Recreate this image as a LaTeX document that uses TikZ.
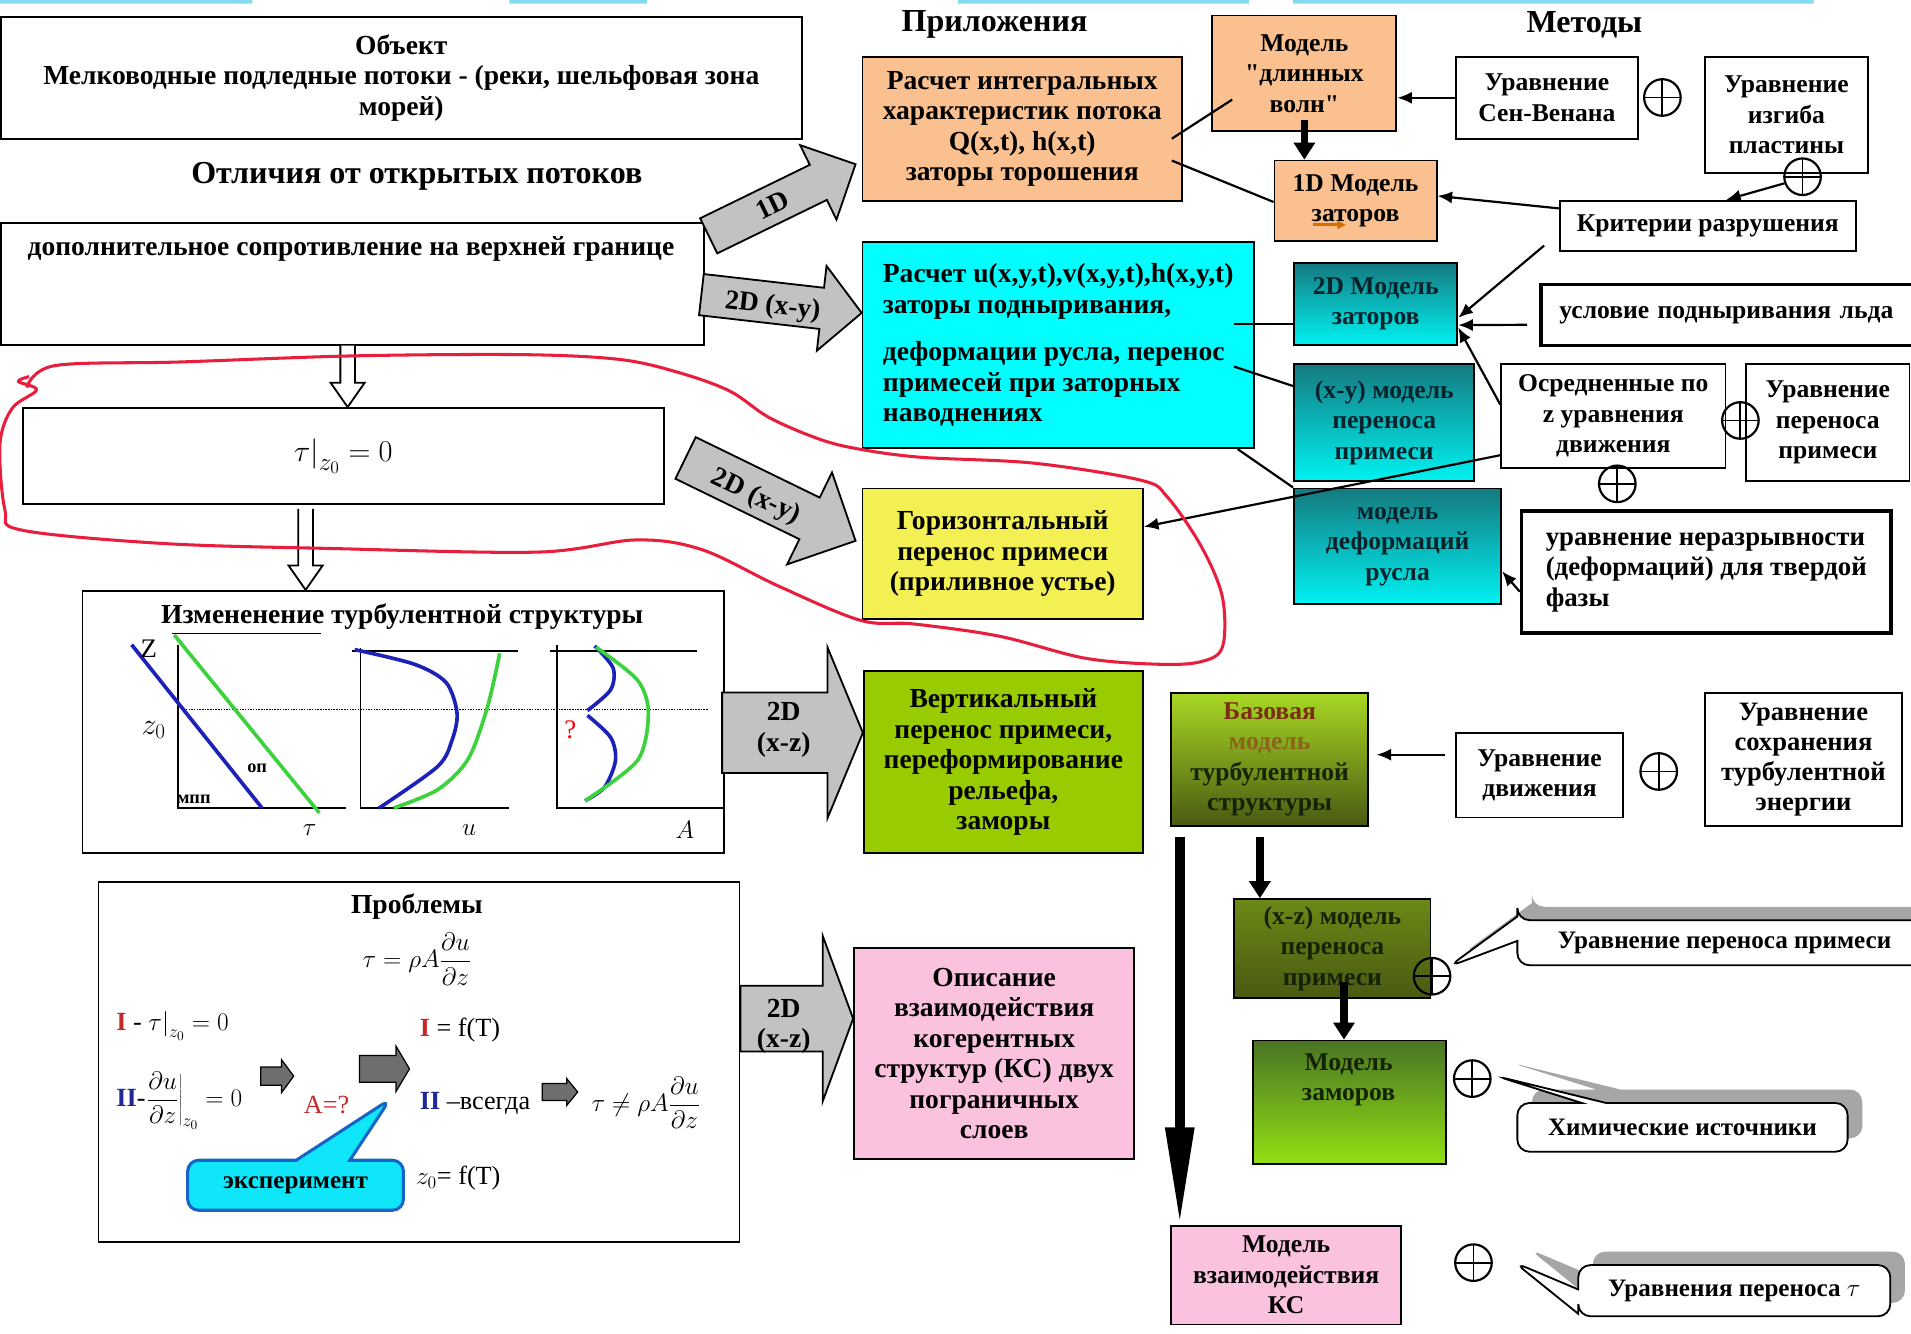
\documentclass[tikz,border=0pt]{standalone}
\usepackage{fontspec}
\setmainfont{Liberation Serif}
\usetikzlibrary{calc,arrows.meta,shapes.callouts,shadows}

\definecolor{orng}{HTML}{FAC08F}
\definecolor{cyn}{HTML}{00FFFF}
\definecolor{yel}{HTML}{F2F052}
\definecolor{grn}{HTML}{99CC00}
\definecolor{pnk}{HTML}{FBC2E0}
\definecolor{tealtop}{HTML}{147A80}
\definecolor{tealbot}{HTML}{00F2F2}
\definecolor{tealtxt}{HTML}{06222A}
\definecolor{oltop}{HTML}{A8D824}
\definecolor{olbot}{HTML}{4A5A12}
\definecolor{olmid}{HTML}{B4E624}
\definecolor{oldark}{HTML}{6C8816}
\definecolor{zamtop}{HTML}{4A7424}
\definecolor{zambot}{HTML}{92E014}
\definecolor{bazred}{HTML}{7A3010}
\definecolor{bazbr}{HTML}{8A6418}
\definecolor{grntxt}{HTML}{142206}
\definecolor{arrgray}{HTML}{C2C2C2}
\definecolor{smallgray}{HTML}{6E6E6E}
\definecolor{redI}{HTML}{C8282A}
\definecolor{blueII}{HTML}{202898}
\definecolor{plotblue}{HTML}{1C22B8}
\definecolor{plotgreen}{HTML}{3CD23C}
\definecolor{redpen}{HTML}{E81E3C}
\definecolor{topcyan}{HTML}{86D9EE}
\definecolor{expfill}{HTML}{10E6FA}
\definecolor{expline}{HTML}{1664C8}

\newcommand\dq{\XeTeXglyph\the\XeTeXglyphindex "quotedbl"\relax}

\newcommand\blockarrow[6][grayarr]{%
  \coordinate (ba) at (#2);
  \coordinate (bb) at (#3);
  \coordinate (bc) at ($(bb)!#6pt!(ba)$);
  \draw[#1] ($(ba)!#4pt!90:(bb)$) -- ($(bc)!#4pt!-90:(ba)$) -- ($(bc)!#5pt!-90:(ba)$) -- (bb)
    -- ($(bc)!#5pt!90:(ba)$) -- ($(bc)!#4pt!90:(ba)$) -- ($(ba)!#4pt!-90:(bb)$) -- cycle;}

\newcommand\hollowarrow[2]{%
  \draw[line width=1.5,fill=white] let \p1=(#1),\p2=(#2) in
    (\x1-6,\y1) -- (\x1-6,\y2+20) -- (\x1-14,\y2+20) -- (\x1,\y2)
    -- (\x1+14,\y2+20) -- (\x1+6,\y2+20) -- (\x1+6,\y1);}

\begin{document}
\begin{tikzpicture}[x=1pt,y=-1pt,
  font=\bfseries\fontsize{21}{25}\selectfont,
  box/.style={draw,line width=1.5,anchor=north west,align=center,inner sep=2},
  bigbox/.style={box,font=\bfseries\fontsize{22.6}{25}\selectfont},
  thickbox/.style={box,line width=3},
  head/.style={font=\bfseries\fontsize{26.3}{28}\selectfont},
  bigtxt/.style={font=\bfseries\fontsize{22.6}{25}\selectfont},
  tealbox/.style={box,top color=tealtop,bottom color=tealbot,text=tealtxt},
  conn/.style={line width=1.8},
  arr/.style={conn,-{Latex[length=12pt,width=10pt]}},
  fatarr/.style={line width=6,-{Triangle[length=14pt,width=17pt]}},
  longarr/.style={line width=8,-{Triangle[length=80pt,width=22pt]}},
  grayarr/.style={fill=arrgray,draw,line width=1.5},
  smallarr/.style={fill=smallgray,draw,line width=1},
  oplus/.style={circle,draw,line width=1.8,minimum size=30,inner sep=0,
    path picture={\draw[line width=1.5] (path picture bounding box.north) -- (path picture bounding box.south)
      (path picture bounding box.west) -- (path picture bounding box.east);}},
  callbox/.style={rectangle callout,draw,line width=1.5,fill=white,rounded corners=10,
    callout pointer width=20,font=\bfseries\fontsize{20.6}{22}\selectfont,
    drop shadow={shadow xshift=12pt,shadow yshift=11pt,fill=gray!70,opacity=1}},
  plotline/.style={line width=3},
  formula/.style={font=\fontsize{21.5}{23}\selectfont}]

\useasboundingbox (0,0) rectangle (1568,1094);
\fill[white] (0,0) rectangle (1568,1094);
\fill[topcyan] (0,0) rectangle (207,3) (418,0) rectangle (531,3) (786,0) rectangle (1025,3) (1061,0) rectangle (1488,3);

\node[bigbox,minimum width=657,minimum height=100] (obj) at (0,13) {Объект\\Мелководные подледные потоки - (реки, шельфовая зона\\морей)};
\node[head] (otl) at (342,145) {Отличия от открытых потоков};
\node[box,minimum width=577,minimum height=100] (dop) at (0,182) {};
\node[bigtxt] (doptxt) at (288,204) {дополнительное сопротивление на верхней границе};
\node[box,minimum width=526,minimum height=79,font=\fontsize{28}{30}\selectfont] (tau) at (18,334) {$\tau\Big|_{z_0}=0$};
\node[box,minimum width=526,minimum height=215] (turb) at (67,484) {};
\node[bigtxt] (turbtit) at (330,506) {Измененение турбулентной структуры};
\node[box,minimum width=526,minimum height=295] (probl) at (80,723) {};

\hollowarrow{$(dop.south)+(-4,0)$}{$(tau.north)+(3,0)$}
\hollowarrow{$(tau.south)+(-31,3)$}{$(turb.north)+(-80,0)$}

\draw[line width=1.2] (141,520) -- (263,520) (146,529) -- (146,663) -- (284,663);
\draw[line width=1.2] (289,534) -- (425,534) (296,532) -- (296,663) -- (418,663);
\draw[line width=1.2] (451,534) -- (572,534) (457,529) -- (457,663) -- (593,663);
\draw[densely dotted,line width=1.2] (146,582) -- (581,582);
\draw[plotline,plotblue] (108,529) -- (215,663);
\draw[plotline,plotgreen] (143,521) -- (262,667);
\draw[plotline,plotblue] plot[smooth] coordinates {(291,533) (340,545) (366,560) (375,585) (371,607) (359,629) (311,663)};
\draw[plotline,plotgreen] plot[smooth] coordinates {(410,536) (400,580) (384,623) (359,648) (323,663)};
\draw[plotline,plotblue] plot[smooth] coordinates {(488,530) (503,548) (501,566) (482,583)};
\draw[plotline,plotblue] plot[smooth] coordinates {(482,587) (501,605) (505,624) (496,646) (480,657)};
\draw[plotline,plotgreen] plot[smooth] coordinates {(489,531) (523,558) (532,585) (523,624) (480,657)};
\node[font=\fontsize{22}{22}\selectfont] (zlab) at (122,532) {Z};
\node[font=\fontsize{25}{25}\selectfont] (z0lab) at (126,599) {$z_0$};
\node[font=\bfseries\fontsize{15}{16}\selectfont] (oplab) at (211,630) {оп};
\node[font=\bfseries\fontsize{15}{16}\selectfont] (mpplab) at (159,656) {мпп};
\node[font=\fontsize{22}{22}\selectfont] (taulab) at (254,681) {$\tau$};
\node[font=\fontsize{22}{22}\selectfont] (ulab) at (385,681) {$u$};
\node[font=\fontsize{22}{22}\selectfont] (alab) at (562,681) {$A$};
\node[font=\fontsize{22}{22}\selectfont,text=red] (qlab) at (468,599) {?};

\node[head] (pril) at (816,20) {Приложения};
\node[head] (met) at (1300,20) {Методы};
\node[bigbox,fill=orng,minimum width=262,minimum height=118] (a1) at (707,46) {Расчет интегральных\\характеристик потока\\Q(x,t), h(x,t)\\заторы торошения};
\node[bigbox,fill=cyn,minimum width=321,minimum height=169,align=left] (a2) at (707,198) {Расчет u(x,y,t),v(x,y,t),h(x,y,t)\\заторы подныривания,\\[14pt]деформации русла, перенос\\примесей при заторных\\наводнениях};
\node[bigbox,fill=yel,minimum width=230,minimum height=107] (a3) at (707,400) {Горизонтальный\\перенос примеси\\(приливное устье)};
\node[bigbox,fill=grn,minimum width=229,minimum height=149] (a4) at (708,550) {Вертикальный\\перенос примеси,\\переформирование\\рельефа,\\заморы};
\node[bigbox,fill=pnk,minimum width=230,minimum height=173] (a5) at (700,777) {Описание\\взаимодействия\\когерентных\\структур (КС) двух\\пограничных\\слоев};

\node[box,fill=orng,minimum width=151,minimum height=95] (dlv) at (994,12) {Модель\\\dq длинных\\волн\dq};
\node[box,fill=orng,minimum width=133,minimum height=66] (m1d) at (1045,131) {1D Модель\\заторов};
\node[box,minimum width=149,minimum height=67] (sv) at (1194,46) {Уравнение\\Сен-Венана};
\node[box,minimum width=134,minimum height=95] (izg) at (1398,46) {Уравнение\\изгиба\\пластины};
\node[box,minimum width=243,minimum height=41] (krit) at (1279,164) {Критерии разрушения};
\node[tealbox,minimum width=134,minimum height=67] (m2d) at (1061,215) {2D Модель\\заторов};
\node[thickbox,minimum width=330,minimum height=50,text width=300,align=left] (usl) at (1263,232) {условие подныривания льда};
\node[tealbox,minimum width=148,minimum height=96] (mxy) at (1061,298) {(x-y) модель\\переноса\\примеси};
\node[box,minimum width=184,minimum height=85] (osr) at (1231,298) {Осредненные по\\z уравнения\\движения};
\node[box,minimum width=134,minimum height=96] (upr) at (1432,298) {Уравнение\\переноса\\примеси};
\node[tealbox,minimum width=170,minimum height=95] (mdef) at (1061,400) {модель\\деформаций\\русла};
\node[thickbox,minimum width=303,minimum height=100,align=left,font=\bfseries\fontsize{22}{25}\selectfont] (nerazr) at (1247,418) {уравнение неразрывности\\(деформаций) для твердой\\фазы};

\node[box,top color=oltop,bottom color=olbot,text=grntxt,minimum width=162,minimum height=109] (baz) at (960,568) {{\color{bazred}Базовая}\\{\color{bazbr}модель}\\турбулентной\\структуры};
\node[box,minimum width=137,minimum height=69] (udv) at (1194,601) {Уравнение\\движения};
\node[box,minimum width=162,minimum height=109,font=\bfseries\fontsize{21.8}{24.5}\selectfont] (uste) at (1398,568) {Уравнение\\сохранения\\турбулентной\\энергии};
\node[box,top color=oldark,middle color=olmid,bottom color=olbot,text=grntxt,minimum width=161,minimum height=81] (mxz) at (1012,737) {(x-z) модель\\переноса\\примеси};
\node[box,top color=zamtop,bottom color=zambot,minimum width=159,minimum height=101] (zam) at (1027,853) {};
\node[text=grntxt,align=center] (zamtxt) at (1106.5,886) {Модель\\заморов};
\node[box,fill=pnk,minimum width=189,minimum height=81] (mkc) at (960,1005) {Модель\\взаимодействия\\КС};

\node[oplus] (p1) at (1364,80) {};
\node[oplus] (p2) at (1479,145) {};
\node[oplus] (p3) at (1428,345) {};
\node[oplus] (p4) at (1327,397) {};
\node[oplus] (p5) at (1361,633) {};
\node[oplus] (p6) at (1175,801) {};
\node[oplus] (p7) at (1208,885) {};
\node[oplus] (p8) at (1209,1036) {};

\node[callbox,callout absolute pointer={(p6.30)},minimum width=340,minimum height=37] (c1) at (1415,773.5) {Уравнение переноса примеси};
\node[callbox,callout absolute pointer={($(p7.east)+(4,-2)$)},minimum width=271,minimum height=40] (c2) at (1380.5,925) {Химические источники};
\node[callbox,callout absolute pointer={($(p8.east)+(18,0)$)},minimum width=256,minimum height=42] (c3) at (1423,1059) {Уравнения переноса $\tau$};

\draw[conn] ($(a1.east)+(-9,8)$) -- ($(dlv.west)+(17,21.5)$);
\draw[conn] ($(a1.east)+(-9,26)$) -- ($(m1d.west)+(0,1)$);
\draw[fatarr] ($(dlv.south)+(0,-10)$) -- (m1d.north -| dlv.south);
\draw[arr] (sv.west) -- (sv.west -| dlv.east);
\draw[arr] (p2.200) -- ($(krit.north)+(15,0)$);
\draw[arr] ($(krit.north west)+(0,7)$) -- ($(m1d.east)+(0,-4)$);
\draw[arr] ($(krit.south west)+(-12,-5)$) -- ($(m2d.east)+(0,11.5)$);
\draw[arr] ($(usl.west)+(-10,8)$) -- ($(m2d.east)+(0,17.5)$);
\draw[arr] ($(osr.north west)+(0,34)$) -- ($(m2d.east)+(0,19.5)$);
\draw[conn] ($(a2.east)+(-17,-17.5)$) coordinate (s1) -- (s1 -| m2d.west);
\draw[conn] ($(a2.east)+(-17,17.5)$) -- ($(mxy.west)+(0,-30)$);
\draw[conn] ($(a2.south east)+(-14,0)$) -- (mdef.north west);
\draw[arr] ($(osr.south west)+(0,-11)$) -- ($(a3.east)+(0,-22)$);
\draw[arr] ($(nerazr.west)+(0,16)$) -- ($(mdef.east)+(0,20.5)$);
\draw[arr] ($(udv.west)+(-8,-17)$) coordinate (s2) -- ($(s2 -| baz.east)+(6,0)$);
\draw[fatarr] ($(baz.south)+(-8,8)$) coordinate (s3) -- (s3 |- mxz.north);
\draw[longarr] ($(baz.south west)+(8,8)$) coordinate (s4) -- (s4 |- mkc.north);
\draw[fatarr] ($(mxz.south)+(9.5,-14)$) coordinate (s5) -- (s5 |- zam.north);
\draw[line width=2.5,draw=orange!85!black,-{Triangle[length=7pt,width=7pt]}] ($(m1d.south)+(-35,-14)$) -- ++(27,0);

\blockarrow{$(dop.north east)+(3,11.5)$}{$(a1.west)+(-5,29)$}{16}{34}{34}
\node[rotate=26,bigtxt] (l1d) at (634,168) {1D};
\blockarrow{$(dop.east)+(-3,9)$}{$(a2.west)+(0,-26.5)$}{17}{35}{33}
\node[rotate=-6.4,bigtxt] (l2xy) at (634,252) {2D (x-y)};
\blockarrow{$(tau.east)+(17,1.5)$}{$(a3.west)+(-5,-10.5)$}{19}{42}{42}
\node[rotate=-25.7,bigtxt] (l2xyb) at (620,408) {2D (x-y)};
\blockarrow{$(turb.east)+(-2,9)$}{$(a4.west)+(0,-24)$}{33}{70}{29}
\node[align=center,bigtxt] (l2xz) at (643,599) {2D\\(x-z)};
\blockarrow{$(probl.east)+(0,-35.5)$}{$(a5.west)+(0,-28.5)$}{27}{68}{25}
\node[align=center,bigtxt] (l2xzb) at (643,842) {2D\\(x-z)};

\node[bigtxt] (probtit) at (342,744) {Проблемы};
\node[formula] (f1) at (342,787) {$\tau=\rho A\displaystyle\frac{\partial u}{\partial z}$};
\node[formula,anchor=west] (f2) at (92,842) {{\bfseries\color{redI}I} - $\tau\Big|_{z_0}=0$};
\node[formula,anchor=west] (f3) at (92,903) {{\bfseries\color{blueII}II}-$\left.\displaystyle\frac{\partial u}{\partial z}\right|_{z_0}=0$};
\node[formula,text=redI] (aq) at (268,907) {A=?};
\node[formula,anchor=west] (f4) at (341,845) {{\bfseries\color{redI}I} = f(T)};
\node[formula,anchor=west] (f5) at (341,905) {{\bfseries\color{blueII}II} –всегда};
\node[formula] (f6) at (530,905) {$\tau\neq\rho A\displaystyle\frac{\partial u}{\partial z}$};
\node[formula,anchor=west] (f7) at (338,967) {$z_0$= f(T)};
\blockarrow[smallarr]{214,883}{241,883}{7.5}{13.5}{10}
\blockarrow[smallarr]{295,877}{336,877}{11}{18.5}{11}
\blockarrow[smallarr]{445,896}{474,896}{7}{11}{9}
\node[rectangle callout,callout absolute pointer={(320,902)},callout pointer width=44,fill=expfill,draw=expline,
  line width=2.5,rounded corners=9,minimum width=177,minimum height=41,
  font=\bfseries\fontsize{20.6}{22}\selectfont] (exp) at (242.5,972.5) {эксперимент};

\draw[redpen,line width=2.5,line join=round] plot[smooth,tension=0.55] coordinates {
  (22,318) (45,300) (148,297) (290,292) (430,291) (509,295) (558,306) (599,321) (630,342)
  (666,358) (697,367) (753,375) (848,380) (936,394) (958,408) (986,449) (1003,490) (1003,531)
  (985,543) (950,545) (890,540) (820,522) (750,512) (706,509) (639,481) (576,451) (522,443)
  (441,453) (270,450) (135,446) (18,435) (4,418) (0,364) (10,335) (30,320) (15,313) (24,309)};
\end{tikzpicture}
\end{document}
